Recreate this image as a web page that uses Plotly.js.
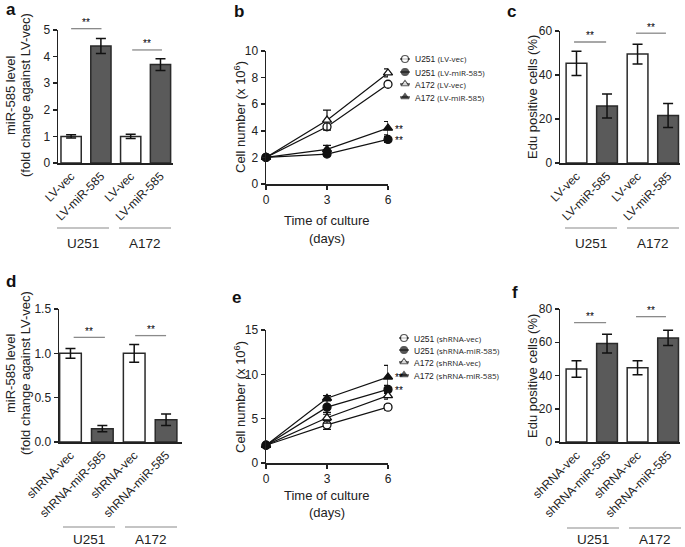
<!DOCTYPE html>
<html><head><meta charset="utf-8">
<script src="https://cdn.plot.ly/plotly-3.0.1.min.js"></script>
<style>html,body{margin:0;padding:0;background:#fff}#g{width:685px;height:547px}</style>
</head><body><div id="g"></div>
<script>
// ---------- data ----------
const catsLV = ['LV-vec', 'LV-miR-585', 'LV-vec', 'LV-miR-585'];
const catsSh = ['shRNA-vec', 'shRNA-miR-585', 'shRNA-vec', 'shRNA-miR-585'];
const cellLines = ['U251', 'A172'];

// panel a: miR-585 level (LV)
const mirA = [1.0, 4.4, 1.0, 3.7];
const mirAErr = [0.06, 0.28, 0.08, 0.22];
const sigA = [5.05, 4.25];
// panel c: Edu positive (LV)
const eduC = [45.3, 25.9, 49.5, 21.6];
const eduCErr = [5.5, 5.5, 4.5, 5.5];
const sigC = [55, 59];
// panel d: miR-585 level (shRNA)
const mirD = [1.0, 0.15, 1.0, 0.25];
const mirDErr = [0.055, 0.035, 0.1, 0.065];
const sigD = [1.18, 1.2];
// panel f: Edu positive (shRNA)
const eduF = [43.9, 59.2, 44.6, 62.6];
const eduFErr = [5.0, 5.6, 4.2, 4.6];
const sigF = [71.8, 75.4];

const days = [0, 3, 6];
// panel b: cell number (LV)
const namesB = ['U251 (LV-vec)', 'U251 (LV-miR-585)', 'A172 (LV-vec)', 'A172 (LV-miR-585)'];
const bU251vec = [2, 4.3, 7.5], bU251vecErr = [0.05, 0.15, 0.15];
const bU251mir = [2, 2.25, 3.35], bU251mirErr = [0.05, 0.12, 0.22];
const bA172vec = [2, 4.8, 8.35], bA172vecErr = [0.05, 0.75, 0.3];
const bA172mir = [2, 2.6, 4.2], bA172mirErr = [0.05, 0.3, 0.5];
// panel e: cell number (shRNA)
const namesE = ['U251 (shRNA-vec)', 'U251 (shRNA-miR-585)', 'A172 (shRNA-vec)', 'A172 (shRNA-miR-585)'];
const eU251vec = [2, 4.3, 6.3], eU251vecErr = [0.05, 0.5, 0.3];
const eU251mir = [2, 6.3, 8.3], eU251mirErr = [0.05, 0.8, 0.45];
const eA172vec = [2, 5.1, 7.6], eA172vecErr = [0.05, 0.6, 0.4];
const eA172mir = [2, 7.3, 9.7], eA172mirErr = [0.05, 0.3, 1.3];

// ---------- helpers ----------
const W = 685, H = 547;
const X = p => p / W, Y = p => 1 - p / H;
const FONT = 'Liberation Sans, Arial, sans-serif';
const TXT = '#222';
const symbols = ['circle-open', 'circle', 'triangle-up-open', 'triangle-up'];

const traces = [];
const shapes = [];
const annotations = [];

function yax(pyTop, pyBot, range, dtick, fmt) {
  return {domain: [Y(pyBot), Y(pyTop)], range: range, dtick: dtick, tick0: 0, tickformat: fmt || '',
    showline: true, linecolor: '#222', linewidth: 1.5, ticks: 'outside', ticklen: 4, tickwidth: 1.5, tickcolor: '#222',
    showgrid: false, zeroline: false, fixedrange: true, tickfont: {family: FONT, size: 12, color: TXT}};
}
function xbar(pxL, pxR, range, labels) {
  return {domain: [X(pxL), X(pxR)], range: range, tickmode: 'array', tickvals: [0, 1, 2, 3], ticktext: labels, tickangle: -45,
    showline: true, linecolor: '#222', linewidth: 1.5, ticks: '', showgrid: false, zeroline: false, fixedrange: true,
    tickfont: {family: FONT, size: 12, color: TXT}};
}
function xline(pxL, pxR) {
  return {domain: [X(pxL), X(pxR)], range: [0, 6], tickmode: 'array', tickvals: days,
    showline: true, linecolor: '#222', linewidth: 1.5, ticks: 'outside', ticklen: 4, tickwidth: 1.5, tickcolor: '#222',
    showgrid: false, zeroline: false, fixedrange: true, tickfont: {family: FONT, size: 12, color: TXT}};
}

const AX = {
  1: {x: xbar(58, 173, [-0.44, 3.42], catsLV), y: yax(30, 163, [0, 5], 1)},
  2: {x: xline(266, 388), y: yax(51, 184, [0, 10], 2)},
  3: {x: xbar(560, 680, [-0.54, 3.39], catsLV), y: yax(31, 163, [0, 60], 20)},
  4: {x: xbar(59, 182, [-0.36, 3.5], catsSh), y: yax(309, 442, [0, 1.5], 0.5, '.1f')},
  5: {x: xline(266, 388), y: yax(330, 463, [0, 15], 5)},
  6: {x: xbar(560, 680, [-0.54, 3.39], catsSh), y: yax(309, 442, [0, 80], 20)}
};
// value on a y axis -> fraction of that axis' domain (so marks above the range are not clipped)
const yDom = (n, v) => { const r = AX[n].y.range; return (v - r[0]) / (r[1] - r[0]); };

function barPanel(n, vals, errs) {
  const xa = 'x' + (n === 1 ? '' : n), ya = 'y' + (n === 1 ? '' : n);
  const idxVec = [0, 2], idxMir = [1, 3];
  [[idxVec, '#ffffff'], [idxMir, '#5a5a5a']].forEach(([idx, col]) => {
    traces.push({
      type: 'bar', xaxis: xa, yaxis: ya,
      x: idx, y: idx.map(i => vals[i]),
      width: 0.68,
      marker: {color: col, line: {color: '#2a2a2a', width: 1.5}},
      error_y: {type: 'data', array: idx.map(i => errs[i]), visible: true, color: '#111', thickness: 1.5, width: 5},
      showlegend: false, hoverinfo: 'skip'
    });
  });
}
function sigPanel(n, levels, x0s, x1s, starPad) {
  const xa = 'x' + (n === 1 ? '' : n), ya = 'y' + (n === 1 ? '' : n) + ' domain';
  levels.forEach((lv, g) => {
    const yd = yDom(n, lv);
    shapes.push({type: 'line', xref: xa, yref: ya, x0: x0s[g], x1: x1s[g], y0: yd, y1: yd,
      line: {color: '#8a8a8a', width: 1.3}});
    annotations.push({xref: xa, yref: ya, x: (x0s[g] + x1s[g]) / 2, y: yd, yshift: starPad, xanchor: 'center', yanchor: 'middle',
      text: '**', showarrow: false, font: {family: FONT, size: 10, color: '#000'}});
  });
}
function lineTrace(n, yv, err, sym) {
  const xa = 'x' + n, ya = 'y' + n;
  const open = sym.endsWith('-open');
  traces.push({
    type: 'scatter', mode: 'lines+markers', xaxis: xa, yaxis: ya,
    x: days, y: yv, cliponaxis: false,
    line: {color: '#111', width: 1.2},
    marker: {symbol: sym.replace('-open', ''), size: 8, color: open ? '#fff' : '#111', line: {color: '#111', width: 1.3}},
    error_y: {type: 'data', array: err, visible: true, color: '#111', thickness: 1.2, width: 4},
    showlegend: false, hoverinfo: 'skip'
  });
}

// ---------- bars ----------
barPanel(1, mirA, mirAErr);
barPanel(3, eduC, eduCErr);
barPanel(4, mirD, mirDErr);
barPanel(6, eduF, eduFErr);
sigPanel(1, sigA, [0.0, 2.05], [1.02, 3.05], 6);
sigPanel(3, sigC, [-0.08, 1.95], [0.97, 2.93], 6);
sigPanel(4, sigD, [0.1, 2.03], [1.08, 3.0], 6);
sigPanel(6, sigF, [-0.08, 1.95], [0.97, 2.93], 6);

// ---------- lines ----------
const seriesB = [[bU251vec, bU251vecErr], [bU251mir, bU251mirErr], [bA172vec, bA172vecErr], [bA172mir, bA172mirErr]];
const seriesE = [[eU251vec, eU251vecErr], [eU251mir, eU251mirErr], [eA172vec, eA172vecErr], [eA172mir, eA172mirErr]];
seriesB.forEach((s, i) => lineTrace(2, s[0], s[1], symbols[i]));
seriesE.forEach((s, i) => lineTrace(5, s[0], s[1], symbols[i]));
// significance stars beside day-6 points
[[2, bA172mir[2]], [2, bU251mir[2]], [5, eA172mir[2]], [5, eU251mir[2]]].forEach(([n, v]) => {
  annotations.push({xref: 'x' + n, yref: 'y' + n, x: 6, y: v, xanchor: 'left', xshift: 5, yshift: -1,
    text: '**', showarrow: false, font: {family: FONT, size: 10, color: '#000'}});
});

// ---------- custom legends (overlay axis in pixel units) ----------
function legend(names, x0, rowYs) {
  names.forEach((nm, i) => {
    const open = symbols[i].endsWith('-open');
    traces.push({
      type: 'scatter', mode: 'lines+markers', xaxis: 'x7', yaxis: 'y7',
      x: [x0 - 5, x0, x0 + 5], y: [rowYs[i], rowYs[i], rowYs[i]], cliponaxis: false,
      line: {color: '#111', width: 1.1},
      marker: {symbol: symbols[i].replace('-open', ''), size: [0, 7, 0], color: open ? '#fff' : '#111', line: {color: '#111', width: 1.2}},
      showlegend: false, hoverinfo: 'skip'
    });
    const parts = nm.split(' ');
    annotations.push({xref: 'paper', yref: 'paper', x: X(x0 + 8), y: Y(rowYs[i]), xanchor: 'left', yanchor: 'middle',
      text: parts[0] + ' <span style="font-family:Open Sans;font-size:8px">' + parts.slice(1).join(' ') + '</span>',
      showarrow: false, font: {family: FONT, size: 8.5, color: TXT}});
  });
}
legend(namesB, 405, [59, 72, 84, 97]);
legend(namesE, 404, [338, 350, 362, 375]);

// ---------- group underlines and labels ----------
function groups(lines, yLine, yLab) {
  lines.forEach((seg, g) => {
    shapes.push({type: 'line', xref: 'paper', yref: 'paper', x0: X(seg[0]), x1: X(seg[1]), y0: Y(yLine), y1: Y(yLine),
      line: {color: '#8a8a8a', width: 1.2}});
    annotations.push({xref: 'paper', yref: 'paper', x: X((seg[0] + seg[1]) / 2), y: Y(yLab), xanchor: 'center', yanchor: 'middle',
      text: cellLines[g], showarrow: false, font: {family: FONT, size: 13.5, color: TXT}});
  });
}
groups([[57, 109], [119, 171]], 228, 243);
groups([[565, 617], [627, 679]], 228, 243);
groups([[63, 115], [125, 177]], 527, 539);
groups([[567, 619], [629, 681]], 528, 539);

// ---------- titles ----------
function ytitle(text, px, py) {
  annotations.push({xref: 'paper', yref: 'paper', x: X(px), y: Y(py), textangle: -90, xanchor: 'center', yanchor: 'middle',
    text: text, showarrow: false, font: {family: FONT, size: 13, color: TXT}});
}
ytitle('miR-585 level', 10, 95);
ytitle('(fold change against LV-vec)', 25, 95);
ytitle('miR-585 level', 10, 373);
ytitle('(fold change against LV-vec)', 25, 373);
ytitle('Cell number (x 10<sup>6</sup>)', 240, 117);
ytitle('Cell number (x 10<sup>6</sup>)', 240, 397);
ytitle('Edu positive cells (%)', 532, 97);
ytitle('Edu positive cells (%)', 532, 376);
function xtitle(px, py) {
  annotations.push({xref: 'paper', yref: 'paper', x: X(px), y: Y(py), xanchor: 'center', yanchor: 'middle', text: 'Time of culture', showarrow: false, font: {family: FONT, size: 13, color: TXT}});
  annotations.push({xref: 'paper', yref: 'paper', x: X(px), y: Y(py + 17), xanchor: 'center', yanchor: 'middle', text: '(days)', showarrow: false, font: {family: FONT, size: 13, color: TXT}});
}
xtitle(327, 221);
xtitle(327, 495);
[['a', 11, 10], ['b', 239, 11], ['c', 512, 11], ['d', 11, 281], ['e', 236, 297], ['f', 515, 292]].forEach(([t, px, py]) => {
  annotations.push({xref: 'paper', yref: 'paper', x: X(px), y: Y(py), xanchor: 'center', yanchor: 'middle',
    text: '<b>' + t + '</b>', showarrow: false, font: {family: FONT, size: 17, color: '#111'}});
});

// ---------- layout ----------
const layout = {
  width: W, height: H, margin: {l: 0, r: 0, t: 0, b: 0},
  paper_bgcolor: '#fff', plot_bgcolor: 'rgba(0,0,0,0)',
  showlegend: false, barmode: 'overlay',
  xaxis7: {domain: [0, 1], range: [0, W], visible: false, fixedrange: true, anchor: 'y7'},
  yaxis7: {domain: [0, 1], range: [H, 0], visible: false, fixedrange: true, anchor: 'x7'},
  shapes: shapes, annotations: annotations
};
Object.keys(AX).forEach(k => {
  const s = k === '1' ? '' : k;
  layout['xaxis' + s] = Object.assign(AX[k].x, {anchor: 'y' + s});
  layout['yaxis' + s] = Object.assign(AX[k].y, {anchor: 'x' + s});
});
Plotly.newPlot('g', traces, layout, {staticPlot: true, displayModeBar: false});
</script></body></html>
